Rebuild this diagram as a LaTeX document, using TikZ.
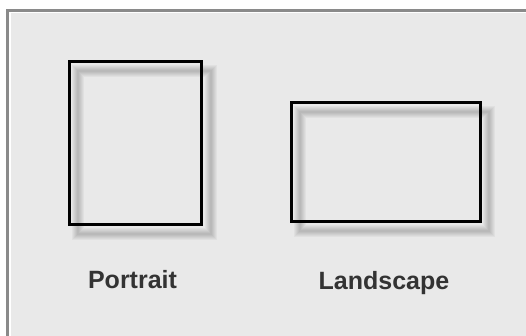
\documentclass[tikz,border=0pt]{standalone}
\usepackage{fontspec}
\setmainfont{Liberation Sans}
\usepackage{xcolor}
\usetikzlibrary{calc}

\definecolor{frameGray}{HTML}{8A8A8A}
\definecolor{panelGray}{HTML}{E9E9E9}
\definecolor{labelGray}{HTML}{333333}

\begin{document}
\begin{tikzpicture}[x=1pt, y=-1pt,
    page/.style={inner sep=0pt, outer sep=0pt},
    caption/.style={anchor=base, text=labelGray, font=\fontsize{25}{30}\selectfont\bfseries}]
      % 画布
      \useasboundingbox (0,0) rectangle (526,336);
      \fill[white] (0,0) rectangle (526,336);

      % 外框
      \fill[frameGray] (6,9) rectangle (530,340);
      \fill[white] (9,12) rectangle (530,340);
      \fill[panelGray] (11,13.5) rectangle (530,340);

      % 纸张: 纵向 / 横向
      \node[page, minimum width=132.5pt, minimum height=162.7pt] (portrait) at (135.25,143.35) {};
      \node[page, minimum width=189pt, minimum height=119pt] (landscape) at (385.5,162.5) {};

      % 阴影
      \foreach \w in {12,10,8,6,4,2} {
        \draw[black, opacity=0.035, line width=\w pt]
          ($(portrait.north west)+(9,9)$) rectangle ($(portrait.south east)+(9,9)$);
        \draw[black, opacity=0.035, line width=\w pt]
          ($(landscape.north west)+(9,9)$) rectangle ($(landscape.south east)+(9,9)$);
      }

      % 边框
      \draw[line width=3pt] (portrait.north west) rectangle (portrait.south east);
      \draw[line width=3pt] (landscape.north west) rectangle (landscape.south east);

      % 标签
      \node[caption] (portraitLabel) at (132.5,288) {Portrait};
      \node[caption] (landscapeLabel) at (384,289.3) {Landscape};
    \end{tikzpicture}
\end{document}
